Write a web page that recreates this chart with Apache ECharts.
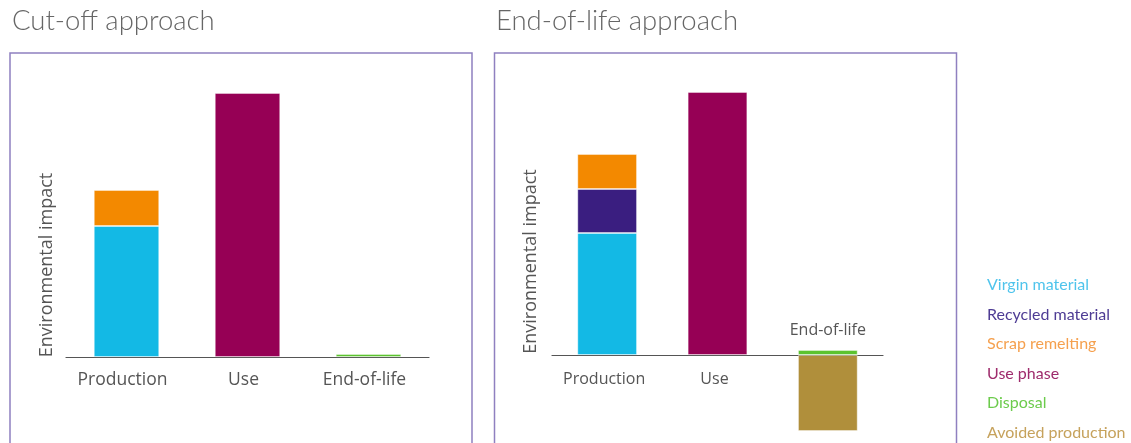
<!DOCTYPE html>
<html>
<head>
<meta charset="utf-8">
<script src="https://cdn.jsdelivr.net/npm/echarts@6/dist/echarts.min.js"></script>
<style>
html,body{margin:0;padding:0;background:#fff;}
#chart{width:1131px;height:443px;}
</style>
</head>
<body>
<div id="chart"></div>
<script>
// ---- data ----
const categories = ['Production', 'Use', 'End-of-life'];
const seriesNames = ['Virgin material', 'Recycled material', 'Scrap remelting', 'Use phase', 'Disposal', 'Avoided production'];
// Cut-off approach
const cutVirgin   = [131, null, null];
const cutScrap    = [36, null, null];
const cutUse      = [null, 264, null];
const cutDisposal = [null, null, 3];
// End-of-life approach
const eolVirgin   = [122, null, null];
const eolRecycled = [44, null, null];
const eolScrap    = [35, null, null];
const eolUse      = [null, 263, null];
const eolDisposal = [null, null, 5];
const eolAvoided  = [null, null, -76];
const titles = ['Cut-off approach', 'End-of-life approach'];
const yName = 'Environmental impact';

const barColors = {
  'Virgin material': '#13b9e5',
  'Recycled material': '#3a1e80',
  'Scrap remelting': '#f38900',
  'Use phase': '#960055',
  'Disposal': '#5cc32f',
  'Avoided production': '#b08f3b'
};
const legendColors = {
  'Virgin material': '#4fc4ec',
  'Recycled material': '#4e3c94',
  'Scrap remelting': '#f5a04e',
  'Use phase': '#9e2b6c',
  'Disposal': '#6ccb4c',
  'Avoided production': '#c6a25c'
};

function bar(name, data, idx, extra) {
  return Object.assign({
    name: name, type: 'bar', stack: 's' + idx, barWidth: '54%',
    xAxisIndex: idx, yAxisIndex: idx, data: data,
    itemStyle: { color: barColors[name], borderColor: 'rgba(255,255,255,0.55)', borderWidth: 0.8 },
    emphasis: { disabled: true }
  }, extra || {});
}

const chart = echarts.init(document.getElementById('chart'), null, { renderer: 'canvas' });
const font = 'Open Sans';
function axLine(onZero) { return { show: true, onZero: onZero, lineStyle: { color: '#555', width: 1.2 } }; }

// right panel: value range and grid geometry
const rMin = -76, rMax = 263, rTop = 92, rHeight = 339;

chart.setOption({
  animation: false,
  title: [
    { text: titles[0], left: 7, top: 2, textStyle: { fontFamily: 'Lato', fontWeight: 300, fontSize: 27.5, color: '#666' } },
    { text: titles[1], left: 491, top: 2, textStyle: { fontFamily: 'Lato', fontWeight: 300, fontSize: 27.5, color: '#666' } }
  ],
  legend: {
    orient: 'vertical', left: 981, top: 277, padding: 0, height: 180, icon: 'rect', itemWidth: 0, itemHeight: 10, itemGap: 13.5,
    selectedMode: false,
    data: seriesNames.map(n => ({ name: n, textStyle: { color: legendColors[n] } })),
    textStyle: { fontFamily: 'Lato', fontSize: 16, lineHeight: 16 }
  },
  grid: [
    { left: 66, top: 93, width: 363, height: 264, outerBoundsMode: 'none', containLabel: false },
    { left: 552, top: rTop, width: 331, height: rHeight, outerBoundsMode: 'none', containLabel: false }
  ],
  xAxis: [
    { type: 'category', gridIndex: 0, data: categories, axisTick: { show: false }, axisLine: axLine(true),
      axisLabel: { margin: 14, fontFamily: font, fontSize: 17.5, color: '#555', padding: [0, 8, 0, 0] } },
    { type: 'category', gridIndex: 1, data: categories, axisTick: { show: false }, axisLine: axLine(false),
      position: 'bottom', offset: rMin * rHeight / (rMax - rMin),
      axisLabel: { margin: 16, fontFamily: font, fontSize: 16, color: '#555', padding: [0, 6, 0, 0],
        formatter: v => (v === categories[2] ? '' : v) } }
  ],
  yAxis: [
    { type: 'value', gridIndex: 0, min: 0, max: 264, axisLine: { show: false }, axisTick: { show: false },
      axisLabel: { show: false }, splitLine: { show: false },
      name: yName, nameLocation: 'middle', nameGap: 10, nameRotate: 90,
      nameTextStyle: { fontFamily: font, fontSize: 18, color: '#555', padding: [0, 80, 0, 0] } },
    { type: 'value', gridIndex: 1, min: rMin, max: rMax, axisLine: { show: false }, axisTick: { show: false },
      axisLabel: { show: false }, splitLine: { show: false },
      name: yName, nameLocation: 'middle', nameGap: 12, nameRotate: 90,
      nameTextStyle: { fontFamily: font, fontSize: 18, color: '#555' } }
  ],
  series: [
    bar('Virgin material', cutVirgin, 0),
    bar('Scrap remelting', cutScrap, 0),
    bar('Use phase', cutUse, 0),
    bar('Disposal', cutDisposal, 0),
    bar('Virgin material', eolVirgin, 1),
    bar('Recycled material', eolRecycled, 1),
    bar('Scrap remelting', eolScrap, 1),
    bar('Use phase', eolUse, 1),
    bar('Disposal', eolDisposal, 1, {
      label: { show: true, position: 'top', distance: 12, formatter: () => categories[2],
        fontFamily: font, fontSize: 16, color: '#555' }
    }),
    bar('Avoided production', eolAvoided, 1)
  ],
  graphic: [
    { type: 'rect', shape: { x: 10, y: 53, width: 462, height: 420 }, style: { fill: 'none', stroke: '#8f80c0', lineWidth: 1.5 }, z: -1 },
    { type: 'rect', shape: { x: 494.5, y: 53, width: 462, height: 420 }, style: { fill: 'none', stroke: '#8f80c0', lineWidth: 1.5 }, z: -1 }
  ]
});
</script>
</body>
</html>
